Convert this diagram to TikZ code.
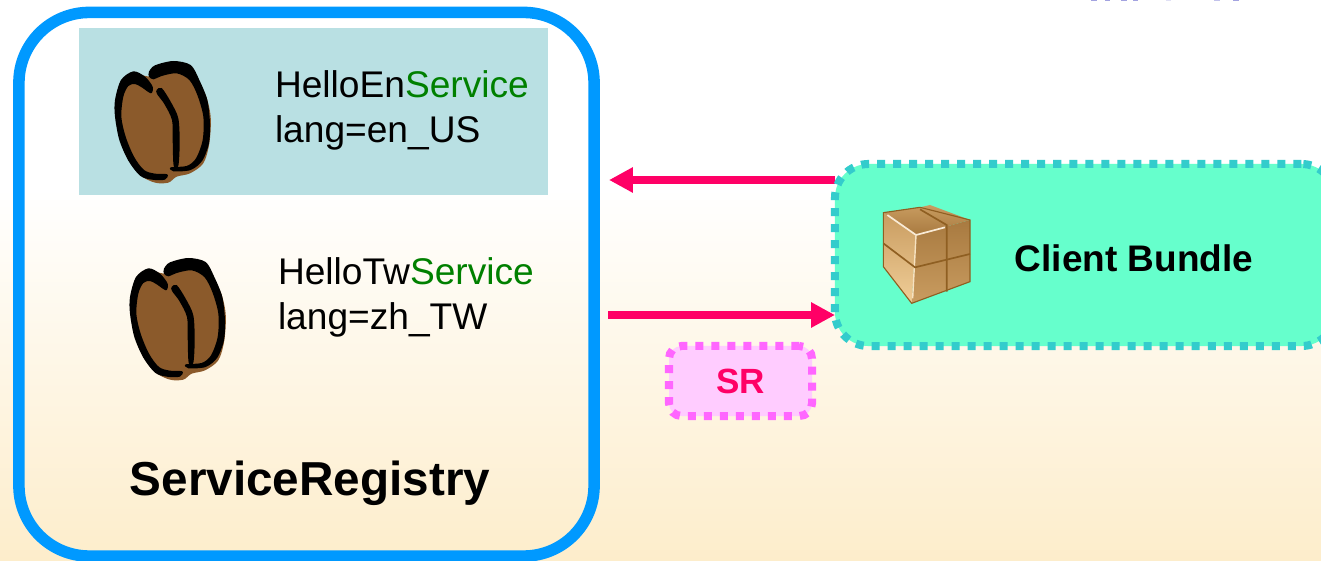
\documentclass[tikz,border=0pt]{standalone}
\usepackage{fontspec}
\usepackage{xcolor}
\setmainfont{Liberation Sans}
\usetikzlibrary{arrows.meta}
\usetikzlibrary{backgrounds}
\definecolor{flowcolor}{HTML}{FF0066}
\definecolor{registrycolor}{HTML}{0099FF}
\definecolor{clientcolor}{HTML}{66FFCC}
\definecolor{clientborder}{HTML}{33CCCC}
\definecolor{srcolor}{HTML}{FFCCFF}
\definecolor{srborder}{HTML}{FF66FF}
\definecolor{panelcolor}{HTML}{B9E0E3}
\definecolor{creamcolor}{HTML}{FDEDCB}
\definecolor{beancolor}{HTML}{8B5A2B}
\definecolor{servicecolor}{HTML}{008000}
\definecolor{titlecolor}{HTML}{6666CC}
\definecolor{boxlight}{HTML}{F0CE98}
\definecolor{boxmid}{HTML}{C99C60}
\definecolor{boxdark}{HTML}{A87A40}
\definecolor{boxline}{HTML}{8F5F22}
\tikzset{
  every node/.style={inner sep=0pt, outer sep=0pt},
  flow/.style={line width=5.4pt, color=flowcolor, -{Triangle[length=17pt, width=17pt]}},
  dotted box/.style={line width=5.7pt, dash pattern=on 5.69pt off 5.69pt},
  service/.style={font=\fontsize{26.4}{32}\selectfont, align=left, anchor=north west},
  pics/bean/.style={code={
    \fill[beancolor] plot[smooth cycle, tension=0.5] coordinates {(210,140) (285,125) (340,150) (375,190) (392,260) (388,340) (370,400) (330,430) (290,440) (265,458) (225,458) (180,435) (140,380) (115,300) (110,220) (125,165) (160,130)};
    \fill[black] plot[smooth cycle, tension=0.5] coordinates {(160,124) (195,140) (218,170) (213,190) (185,172) (165,162) (145,168) (130,200) (124,260) (137,320) (162,380) (192,420) (225,431) (262,433) (255,449) (215,449) (180,437) (145,392) (118,330) (105,260) (105,210) (123,150)};
    \fill[black] plot[smooth cycle, tension=0.5] coordinates {(207,125) (225,106) (280,93) (332,105) (358,150) (382,210) (390,280) (387,340) (367,392) (332,420) (280,424) (272,412) (320,408) (348,385) (368,330) (370,260) (352,195) (328,150) (290,130) (245,138) (220,148) (207,140)};
    \fill[black] plot[smooth cycle, tension=0.5] coordinates {(230,180) (245,174) (272,215) (295,265) (299,340) (295,407) (281,407) (278,330) (276,270) (253,222) (231,192)};
  }},
}

\begin{document}
\begin{tikzpicture}[x=0.025cm, y=0.025cm]
  \useasboundingbox (0, 0) rectangle (1321, 560);
  \clip (0, 0) rectangle (1321, 560);

  % Page background
  \begin{scope}[on background layer]
    \fill[white] (0, 370) rectangle (1321, 560);
    \shade[top color=white, bottom color=creamcolor] (0, 0) rectangle (1321, 371);
  \end{scope}

  \fill[titlecolor!60] (1091, 558.5) rectangle (1097, 560);
  \fill[titlecolor!60] (1105, 558.5) rectangle (1110, 560);
  \fill[titlecolor!60] (1121, 558.5) rectangle (1127, 560);
  \fill[titlecolor!60] (1133, 558.5) rectangle (1138, 560);
  \fill[titlecolor!20] (1166, 558.5) rectangle (1171, 560);
  \fill[titlecolor!40] (1214, 558.5) rectangle (1220, 560);
  \fill[titlecolor!60] (1233, 558.5) rectangle (1239, 560);

  % Registry with its two services
  \fill[panelcolor] (79, 365) rectangle (548, 532);
  \node[draw=registrycolor, line width=8.2pt, rounded corners=50pt, minimum width=409pt, minimum height=386.6pt] (registry) at (306.5, 275.75) {};

  \pic[xscale=1/3, yscale=-1/3] at (80, 530) {bean};
  \pic[xscale=1/3, yscale=-1/3] at (95, 333) {bean};

  \node[service] (helloen) at (275, 489) {HelloEn\textcolor{servicecolor}{Service}\\lang=en\_US};
  \node[service] (hellotw) at (278, 302) {HelloTw\textcolor{servicecolor}{Service}\\lang=zh\_TW};
  \node (registrylabel) at (310, 77) {\fontsize{33.9}{38}\selectfont\bfseries ServiceRegistry};

  % Client
  \node[draw=clientborder, fill=clientcolor, dotted box, rounded corners=24pt,
        minimum width=355.6pt, minimum height=129.5pt] (client) at (1085, 305) {};

  \begin{scope}[shift={(830, 410)}, xscale=1/3, yscale=-1/3]
    \shade[top color=boxmid, bottom color=boxdark] (160, 188) -- (270, 172) -- (300, 165) -- (420, 210) -- (258, 255) -- cycle;
    \shade[top color=boxmid, bottom color=boxlight] (160, 188) -- (258, 255) -- (245, 460) -- (160, 350) -- cycle;
    \shade[top color=boxdark, bottom color=boxmid] (258, 255) -- (420, 210) -- (420, 395) -- (245, 460) -- cycle;
    \draw[boxlight!40!white, line width=1.2pt] (172, 195) -- (258, 255) -- (345, 232);
    \draw[boxlight!60!white, line width=1pt] (258, 255) -- (248, 445);
    \draw[boxline, line width=1.2pt] (160, 280) -- (255, 352) -- (420, 312);
    \draw[boxline, line width=1.2pt] (270, 178) -- (350, 225) -- (350, 425);
    \draw[boxline, line width=0.8pt] (160, 188) -- (270, 172) -- (420, 210) -- (420, 395) -- (245, 460) -- (160, 350) -- cycle;
  \end{scope}

  \node (clientlabel) at (1134, 302) {\fontsize{26.3}{30}\selectfont\bfseries Client Bundle};

  % Service reference
  \node[draw=srborder, fill=srcolor, dotted box, rounded corners=9pt,
        minimum width=101.7pt, minimum height=49.8pt, text=flowcolor, font=\fontsize{24.9}{28}\selectfont\bfseries] (sr) at (740.5, 179) {SR};

  % Arrows run behind the client border
  \coordinate (registryup) at (609, 380);
  \coordinate (registrydown) at (608, 245);
  \begin{scope}[on background layer]
    \draw[flow] (client.west |- registryup) -- (registryup);
    \draw[flow] (registrydown) -- (client.west |- registrydown);
  \end{scope}
\end{tikzpicture}
\end{document}
